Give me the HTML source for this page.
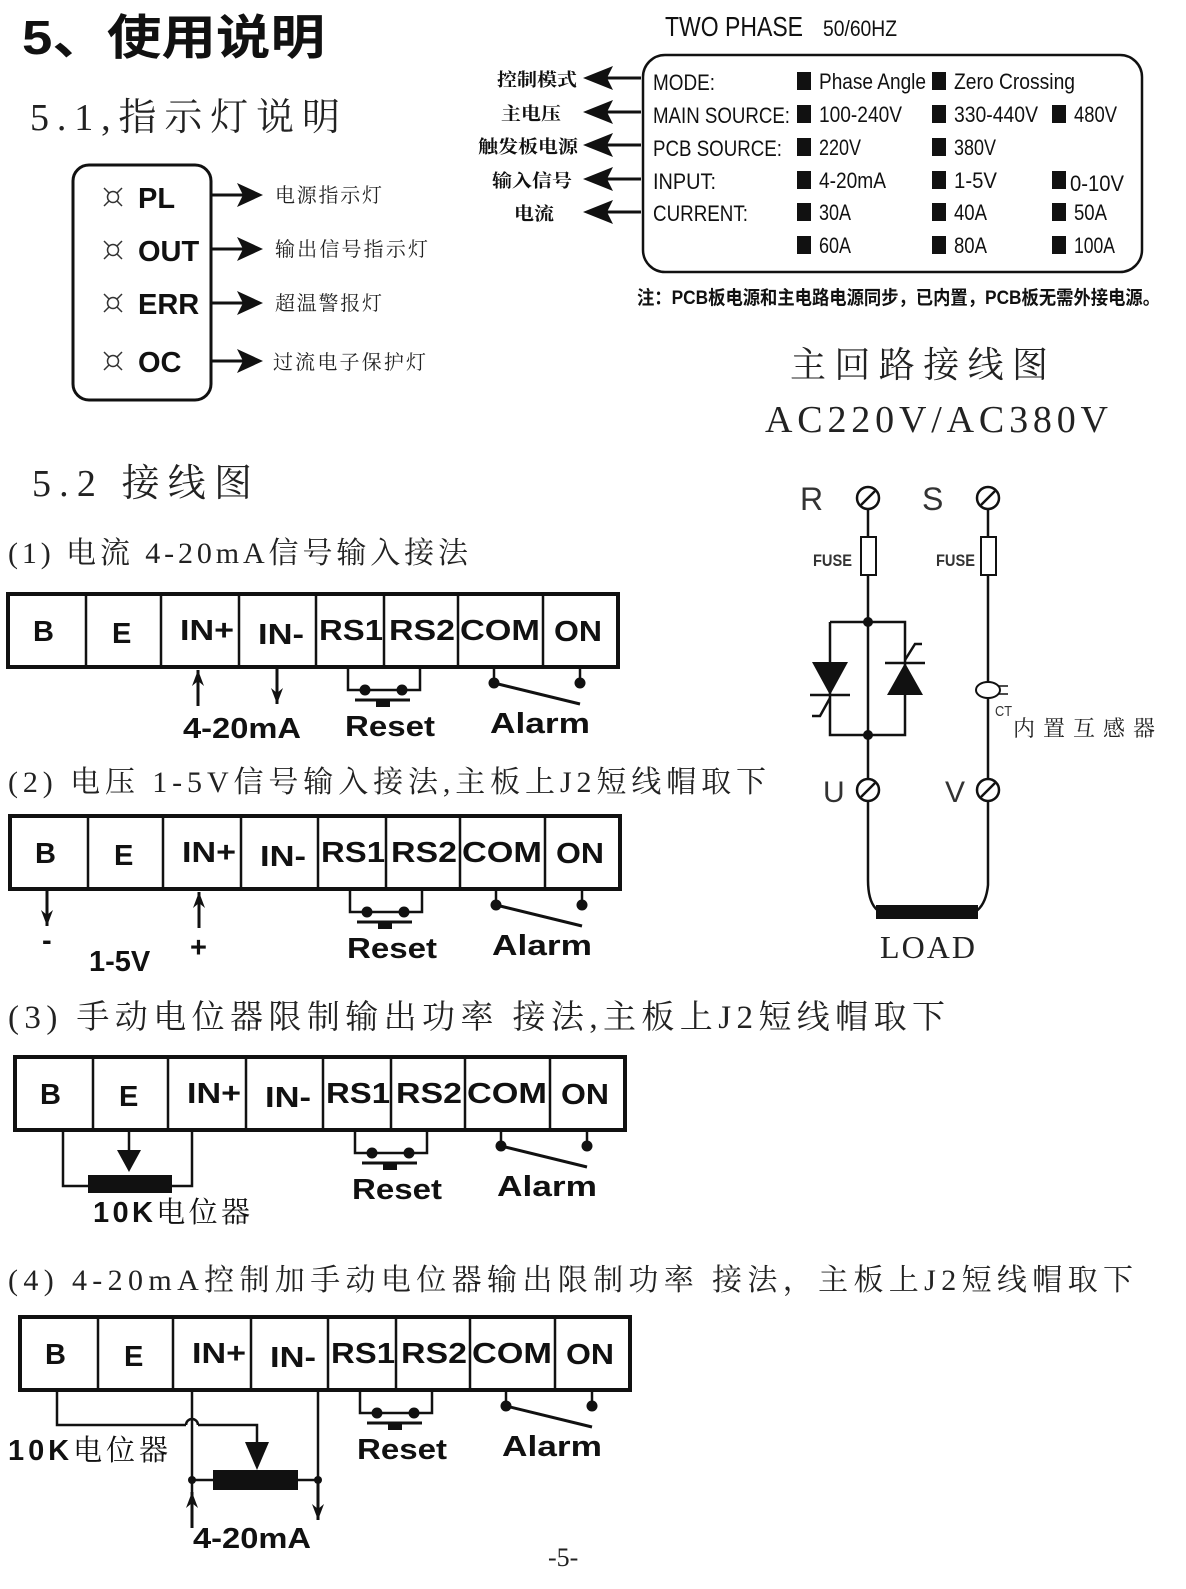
<!DOCTYPE html>
<html><head><meta charset="utf-8">
<style>
html,body{margin:0;padding:0;background:#fff;}
svg{display:block;}
.h{font-family:"Liberation Sans","Noto Sans CJK SC",sans-serif;font-weight:bold;}
.s{font-family:"Liberation Serif","Noto Serif CJK SC",serif;}
.c{font-family:"Liberation Sans","Noto Sans CJK SC",sans-serif;}
.tb{font-family:"Liberation Sans",sans-serif;font-weight:bold;font-size:29px;}
</style></head><body>
<svg width="1186" height="1589" viewBox="0 0 1186 1589" xmlns="http://www.w3.org/2000/svg">
<defs>
<g id="blk">
 <rect x="0" y="0" width="610" height="73" fill="none" stroke="#111" stroke-width="4"/>
 <g stroke="#111" stroke-width="2.5">
  <line x1="78" y1="0" x2="78" y2="73"/><line x1="153" y1="0" x2="153" y2="73"/>
  <line x1="231" y1="0" x2="231" y2="73"/><line x1="308" y1="0" x2="308" y2="73"/>
  <line x1="376" y1="0" x2="376" y2="73"/><line x1="450" y1="0" x2="450" y2="73"/>
  <line x1="535" y1="0" x2="535" y2="73"/>
 </g>
 <g class="tb" fill="#111">
  <text x="25" y="47">B</text><text x="104" y="49">E</text>
  <text x="172" y="46" textLength="54" lengthAdjust="spacingAndGlyphs">IN+</text><text x="250" y="50" textLength="46" lengthAdjust="spacingAndGlyphs">IN-</text>
  <text x="311" y="46" textLength="64" lengthAdjust="spacingAndGlyphs">RS1</text><text x="381" y="46" textLength="66" lengthAdjust="spacingAndGlyphs">RS2</text>
  <text x="452" y="46" textLength="80" lengthAdjust="spacingAndGlyphs">COM</text><text x="546" y="47" textLength="48" lengthAdjust="spacingAndGlyphs">ON</text>
 </g>
 <g stroke="#111" stroke-width="2.5" fill="none">
  <polyline points="340,73 340,96 412,96 412,73"/>
  <line x1="347" y1="106" x2="402" y2="106" stroke-width="3"/>
  <line x1="486" y1="73" x2="486" y2="89"/><line x1="572" y1="73" x2="572" y2="89"/>
  <line x1="486" y1="89" x2="572" y2="110" stroke-width="3"/>
 </g>
 <rect x="368" y="106" width="14" height="7" fill="#111"/>
 <circle cx="357" cy="96" r="5.5" fill="#111"/><circle cx="394" cy="96" r="5.5" fill="#111"/>
 <circle cx="486" cy="89" r="5.5" fill="#111"/><circle cx="572" cy="89" r="5.5" fill="#111"/>
 <text class="tb" x="337" y="142" fill="#111" textLength="90" lengthAdjust="spacingAndGlyphs">Reset</text>
 <text class="tb" x="482" y="139" fill="#111" textLength="100" lengthAdjust="spacingAndGlyphs">Alarm</text>
</g>
<g id="arU"><line x1="0" y1="0" x2="0" y2="36" stroke="#111" stroke-width="3"/><path d="M0,0 L-6,16 L0,11 L6,16Z" fill="#111"/></g>
<g id="arD"><line x1="0" y1="0" x2="0" y2="36" stroke="#111" stroke-width="3"/><path d="M0,36 L-6,20 L0,25 L6,20Z" fill="#111"/></g>
<g id="arR"><line x1="0" y1="0" x2="32" y2="0" stroke="#111" stroke-width="3"/><path d="M52,0 L26,-12 L32,0 L26,12Z" fill="#111"/></g>
<g id="arL"><line x1="0" y1="0" x2="-35" y2="0" stroke="#111" stroke-width="3"/><path d="M-58,0 L-28,-12 L-34,0 L-28,12Z" fill="#111"/></g>
<g id="term"><circle cx="0" cy="0" r="11" fill="#fff" stroke="#111" stroke-width="2.5"/><line x1="-7" y1="7" x2="7" y2="-7" stroke="#111" stroke-width="2.5"/></g>
<g id="led" stroke="#333" stroke-width="1.5" fill="none"><circle cx="0" cy="0" r="5.5"/><line x1="-9" y1="-9" x2="-4" y2="-4"/><line x1="9" y1="-9" x2="4" y2="-4"/><line x1="-9" y1="9" x2="-4" y2="4"/><line x1="9" y1="9" x2="4" y2="4"/></g>
</defs>

<text class="h" x="22" y="54" font-size="48" fill="#111" textLength="303" lengthAdjust="spacingAndGlyphs">5、使用说明</text>
<text class="s" x="30" y="130" font-size="38" fill="#222" textLength="310" lengthAdjust="spacing">5.1,指示灯说明</text>

<rect x="73" y="165" width="138" height="235" rx="16" fill="none" stroke="#111" stroke-width="3"/>
<use href="#led" x="113" y="197"/><use href="#led" x="113" y="250"/><use href="#led" x="113" y="303"/><use href="#led" x="113" y="361"/>
<g class="h" font-size="29" fill="#111">
 <text x="138" y="208">PL</text><text x="138" y="261">OUT</text><text x="138" y="314">ERR</text><text x="138" y="372">OC</text>
</g>
<use href="#arR" x="211" y="195"/><use href="#arR" x="211" y="249"/><use href="#arR" x="211" y="303"/><use href="#arR" x="211" y="361"/>
<g class="s" font-size="20" fill="#222">
 <text x="275" y="202" textLength="107" lengthAdjust="spacing">电源指示灯</text><text x="275" y="256" textLength="153" lengthAdjust="spacing">输出信号指示灯</text><text x="275" y="310" textLength="107" lengthAdjust="spacing">超温警报灯</text><text x="273" y="369" textLength="153" lengthAdjust="spacing">过流电子保护灯</text>
</g>

<g class="c" fill="#111">
<text x="665" y="36" font-size="28" textLength="138" lengthAdjust="spacingAndGlyphs">TWO PHASE</text>
<text x="823" y="36" font-size="22" textLength="74" lengthAdjust="spacingAndGlyphs">50/60HZ</text>
</g>
<rect x="643" y="55" width="499" height="217" rx="22" fill="none" stroke="#111" stroke-width="2.5"/>
<g class="c" font-size="22" fill="#111">
 <text x="653" y="90" textLength="62" lengthAdjust="spacingAndGlyphs">MODE:</text>
 <text x="653" y="123" textLength="137" lengthAdjust="spacingAndGlyphs">MAIN SOURCE:</text>
 <text x="653" y="156" textLength="129" lengthAdjust="spacingAndGlyphs">PCB SOURCE:</text>
 <text x="653" y="189" textLength="63" lengthAdjust="spacingAndGlyphs">INPUT:</text>
 <text x="653" y="221" textLength="95" lengthAdjust="spacingAndGlyphs">CURRENT:</text>
 <text x="819" y="89" textLength="107" lengthAdjust="spacingAndGlyphs">Phase Angle</text><text x="954" y="89" textLength="121" lengthAdjust="spacingAndGlyphs">Zero Crossing</text>
 <text x="819" y="122" textLength="83" lengthAdjust="spacingAndGlyphs">100-240V</text><text x="954" y="122" textLength="84" lengthAdjust="spacingAndGlyphs">330-440V</text><text x="1074" y="122" textLength="43" lengthAdjust="spacingAndGlyphs">480V</text>
 <text x="819" y="155" textLength="42" lengthAdjust="spacingAndGlyphs">220V</text><text x="954" y="155" textLength="42" lengthAdjust="spacingAndGlyphs">380V</text>
 <text x="819" y="188" textLength="67" lengthAdjust="spacingAndGlyphs">4-20mA</text><text x="954" y="188" textLength="43" lengthAdjust="spacingAndGlyphs">1-5V</text><text x="1070" y="191" textLength="54" lengthAdjust="spacingAndGlyphs">0-10V</text>
 <text x="819" y="220" textLength="32" lengthAdjust="spacingAndGlyphs">30A</text><text x="954" y="220" textLength="33" lengthAdjust="spacingAndGlyphs">40A</text><text x="1074" y="220" textLength="33" lengthAdjust="spacingAndGlyphs">50A</text>
 <text x="819" y="253" textLength="32" lengthAdjust="spacingAndGlyphs">60A</text><text x="954" y="253" textLength="33" lengthAdjust="spacingAndGlyphs">80A</text><text x="1074" y="253" textLength="41" lengthAdjust="spacingAndGlyphs">100A</text>
</g>
<g fill="#111">
 <rect x="797" y="72" width="14" height="18"/><rect x="932" y="72" width="14" height="18"/>
 <rect x="797" y="105" width="14" height="18"/><rect x="932" y="105" width="14" height="18"/><rect x="1052" y="105" width="14" height="18"/>
 <rect x="797" y="138" width="14" height="18"/><rect x="932" y="138" width="14" height="18"/>
 <rect x="797" y="171" width="14" height="18"/><rect x="932" y="171" width="14" height="18"/><rect x="1052" y="171" width="14" height="18"/>
 <rect x="797" y="203" width="14" height="18"/><rect x="932" y="203" width="14" height="18"/><rect x="1052" y="203" width="14" height="18"/>
 <rect x="797" y="236" width="14" height="18"/><rect x="932" y="236" width="14" height="18"/><rect x="1052" y="236" width="14" height="18"/>
</g>
<use href="#arL" x="641" y="78"/><use href="#arL" x="641" y="112"/><use href="#arL" x="641" y="145"/><use href="#arL" x="641" y="179"/><use href="#arL" x="641" y="212"/>
<g class="s" font-size="18" font-weight="bold" fill="#111">
 <text x="497" y="86" textLength="80" lengthAdjust="spacingAndGlyphs">控制模式</text>
 <text x="501" y="120" textLength="60" lengthAdjust="spacingAndGlyphs">主电压</text>
 <text x="478" y="153" textLength="100" lengthAdjust="spacingAndGlyphs">触发板电源</text>
 <text x="492" y="187" textLength="80" lengthAdjust="spacingAndGlyphs">输入信号</text>
 <text x="514" y="220" textLength="40" lengthAdjust="spacingAndGlyphs">电流</text>
</g>
<text class="c" x="637" y="304" font-size="19" font-weight="bold" fill="#111" textLength="523" lengthAdjust="spacingAndGlyphs">注：PCB板电源和主电路电源同步，已内置，PCB板无需外接电源。</text>

<text class="s" x="790" y="377" font-size="36" fill="#222" textLength="258" lengthAdjust="spacing">主回路接线图</text>
<text class="s" x="765" y="432" font-size="38" fill="#222" textLength="343" lengthAdjust="spacing">AC220V/AC380V</text>

<text class="s" x="32" y="496" font-size="38" fill="#222" textLength="220" lengthAdjust="spacing">5.2 接线图</text>
<text class="s" x="8" y="563" font-size="30" fill="#222" textLength="460" lengthAdjust="spacing">(1) 电流 4-20mA信号输入接法</text>

<use href="#blk" x="8" y="594"/>
<use href="#arU" x="198" y="670"/><use href="#arD" x="277" y="668"/>
<text class="tb" x="183" y="738" fill="#111" textLength="118" lengthAdjust="spacingAndGlyphs">4-20mA</text>

<text class="s" x="8" y="792" font-size="30" fill="#222" textLength="758" lengthAdjust="spacing">(2) 电压 1-5V信号输入接法,主板上J2短线帽取下</text>
<use href="#blk" x="10" y="816"/>
<use href="#arD" x="47" y="890"/><use href="#arU" x="199" y="892"/>
<text class="tb" x="42" y="950" fill="#111">-</text>
<text class="tb" x="89" y="971" fill="#111">1-5V</text>
<text class="tb" x="190" y="957" fill="#111">+</text>

<text class="s" x="8" y="1028" font-size="33" fill="#222" textLength="937" lengthAdjust="spacing">(3) 手动电位器限制输出功率 接法,主板上J2短线帽取下</text>
<use href="#blk" x="15" y="1057"/>
<g stroke="#111" stroke-width="2.5" fill="none">
 <polyline points="63,1130 63,1186 192,1186 192,1130"/>
 <line x1="129" y1="1130" x2="129" y2="1152"/>
</g>
<path d="M117,1150 L141,1150 L129,1172Z" fill="#111"/>
<rect x="88" y="1175" width="84" height="18" fill="#111"/>
<text class="tb" x="93" y="1222" fill="#111" textLength="157" lengthAdjust="spacing">10K<tspan class="s" font-weight="normal">电位器</tspan></text>

<text class="s" x="8" y="1290" font-size="30" fill="#222" textLength="1125" lengthAdjust="spacing">(4) 4-20mA控制加手动电位器输出限制功率 接法，主板上J2短线帽取下</text>
<use href="#blk" x="20" y="1317"/>
<g stroke="#111" stroke-width="2.5" fill="none">
 <polyline points="57,1390 57,1425 186,1425"/>
 <path d="M186,1425 A6,6 0 0 1 198,1425"/>
 <polyline points="198,1425 257,1425 257,1445"/>
 <line x1="192" y1="1390" x2="192" y2="1510"/>
 <line x1="318" y1="1390" x2="318" y2="1510"/>
 <line x1="192" y1="1480" x2="318" y2="1480"/>
</g>
<path d="M245,1442 L269,1442 L257,1470Z" fill="#111"/>
<rect x="213" y="1470" width="85" height="20" fill="#111"/>
<circle cx="192" cy="1480" r="4" fill="#111"/><circle cx="318" cy="1480" r="4" fill="#111"/>
<use href="#arU" x="192" y="1492"/><use href="#arD" x="318" y="1484"/>
<text class="tb" x="8" y="1460" fill="#111" textLength="160" lengthAdjust="spacing">10K<tspan class="s" font-weight="normal">电位器</tspan></text>
<text class="tb" x="193" y="1548" fill="#111" textLength="118" lengthAdjust="spacingAndGlyphs">4-20mA</text>
<text class="s" x="548" y="1566" font-size="26" fill="#222">-5-</text>

<!-- main circuit -->
<text font-family="Liberation Sans,sans-serif" font-size="32" x="800" y="510" fill="#333">R</text>
<text font-family="Liberation Sans,sans-serif" font-size="32" x="922" y="510" fill="#333">S</text>
<g stroke="#111" stroke-width="2.5" fill="none">
 <line x1="868" y1="508" x2="868" y2="780"/>
 <line x1="988" y1="508" x2="988" y2="780"/>
 <polyline points="830,622 905,622 905,735 830,735 830,622"/>
 <line x1="810" y1="695" x2="850" y2="695"/>
 <polyline points="812,716 820,716 830,698"/>
 <line x1="885" y1="663" x2="925" y2="663"/>
 <polyline points="905,660 915,644 922,644"/>
 <path d="M868,802 L868,880 Q868,905 880,912"/>
 <path d="M988,802 L988,885 Q986,905 975,912"/>
</g>
<rect x="861" y="537" width="15" height="38" fill="#fff" stroke="#111" stroke-width="2"/>
<rect x="981" y="537" width="15" height="38" fill="#fff" stroke="#111" stroke-width="2"/>
<text class="c" x="813" y="566" font-size="17" font-weight="bold" fill="#333" textLength="39" lengthAdjust="spacingAndGlyphs">FUSE</text>
<text class="c" x="936" y="566" font-size="17" font-weight="bold" fill="#333" textLength="39" lengthAdjust="spacingAndGlyphs">FUSE</text>
<path d="M812,662 L848,662 L830,695Z" fill="#111"/>
<path d="M887,695 L923,695 L905,663Z" fill="#111"/>
<circle cx="868" cy="622" r="5" fill="#111"/><circle cx="868" cy="735" r="5" fill="#111"/>
<ellipse cx="988" cy="690" rx="12" ry="8" fill="#fff" stroke="#111" stroke-width="2"/>
<line x1="998" y1="686" x2="1008" y2="686" stroke="#111" stroke-width="1.5"/><line x1="998" y1="694" x2="1008" y2="694" stroke="#111" stroke-width="1.5"/>
<text class="c" x="995" y="716" font-size="15" fill="#333" textLength="17" lengthAdjust="spacingAndGlyphs">CT</text>
<text class="s" x="1013" y="736" font-size="22" fill="#222" textLength="142" lengthAdjust="spacing">内置互感器</text>
<use href="#term" x="868" y="498"/><use href="#term" x="988" y="498"/>
<use href="#term" x="868" y="790"/><use href="#term" x="988" y="790"/>
<text font-family="Liberation Sans,sans-serif" font-size="30" x="823" y="802" fill="#333">U</text>
<text font-family="Liberation Sans,sans-serif" font-size="30" x="945" y="802" fill="#333">V</text>
<rect x="876" y="905" width="102" height="14" fill="#111"/>
<text class="s" x="880" y="958" font-size="32" fill="#222" textLength="95" lengthAdjust="spacing">LOAD</text>
</svg>
</body></html>
